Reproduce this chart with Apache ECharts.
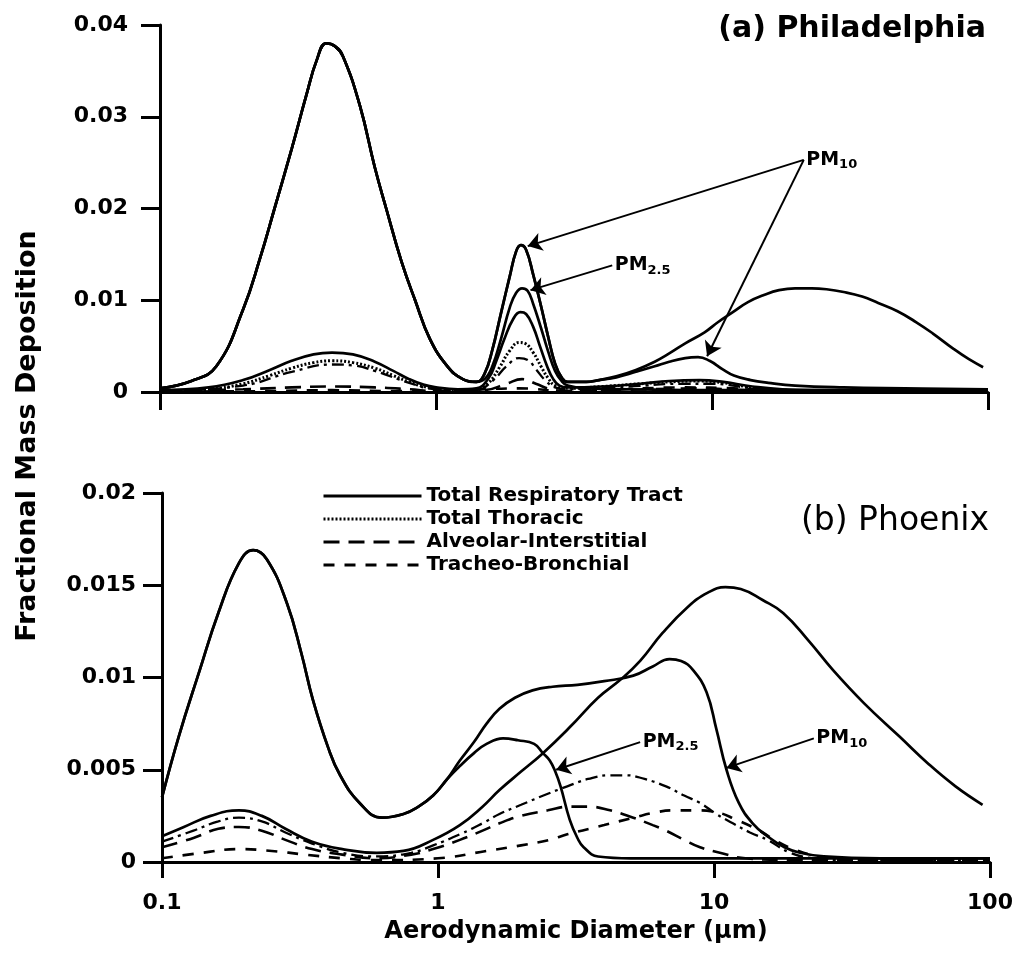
<!DOCTYPE html>
<html>
<head>
<meta charset="utf-8">
<script src="https://cdn.jsdelivr.net/npm/echarts@6/dist/echarts.min.js"></script>
<style>
  html, body { margin: 0; padding: 0; background: #fff; }
  #chart { width: 1025px; height: 958px; }
</style>
</head>
<body>
<div id="chart"></div>
<script>
// ---- Philadelphia: aerodynamic diameter (µm), fractional mass deposition ----
// fine mode shared by the ambient, PM10 and PM2.5 total-respiratory-tract curves
const phlFineMode = [[0.1,0.0004],[0.13,0.0012],[0.16,0.0028],[0.2,0.0090],[0.23,0.0145],[0.26,0.0200],[0.3,0.0265],[0.34,0.0325],[0.37,0.0362],[0.4,0.0380],[0.43,0.0377],[0.46,0.0366],[0.53,0.0312],[0.6,0.0245],[0.66,0.0200],[0.75,0.0142],[0.84,0.0100],[0.95,0.0058],[1.1,0.0028],[1.25,0.0014],[1.4,0.0011]];
// accumulation peak shared by ambient and PM10
const phlAccumPeak = [[1.5,0.0020],[1.6,0.0046],[1.72,0.0086],[1.85,0.0126],[1.95,0.0153],[2.03,0.0160],[2.12,0.0155],[2.25,0.0128],[2.4,0.0094],[2.55,0.0060],[2.7,0.0031],[2.85,0.0016],[3.0,0.0011]];
const phlAmbientCoarse = [[3.5,0.0011],[3.9,0.0013],[4.5,0.0017],[5.3,0.0024],[6.2,0.0033],[7.0,0.0042],[8.0,0.0053],[9.4,0.0065],[10.5,0.0076],[11.9,0.0087],[13.5,0.0098],[15.5,0.0106],[17.5,0.0111],[20,0.0113],[23,0.0113],[26,0.0112],[30,0.0109],[35,0.0104],[40,0.0097],[47,0.0088],[55,0.0076],[63,0.0064],[75,0.0047],[85,0.0036],[96,0.0027]];
const phlPm10Coarse = [[3.5,0.0011],[3.9,0.0013],[4.5,0.0016],[5.3,0.0022],[6.2,0.0028],[7.0,0.0033],[8.0,0.0037],[8.9,0.0038],[9.8,0.0034],[10.9,0.0025],[12,0.0018],[13.8,0.0013],[16,0.0010],[20,0.0007],[30,0.0005],[50,0.0004],[100,0.0003]];
const phlPm25Peak = [[1.5,0.0014],[1.6,0.0028],[1.72,0.0058],[1.85,0.0092],[1.95,0.0108],[2.05,0.0113],[2.15,0.0110],[2.25,0.0096],[2.4,0.0070],[2.55,0.0044],[2.7,0.0023],[2.85,0.0012],[3.0,0.0007],[3.5,0.0004],[5,0.0003],[10,0.0002],[100,0.0002]];
const phlInnerResp = [[0.1,0.0002],[0.15,0.0005],[0.2,0.0013],[0.25,0.0024],[0.3,0.0034],[0.36,0.0041],[0.42,0.0043],[0.5,0.0041],[0.6,0.0033],[0.7,0.0023],[0.8,0.0014],[0.9,0.0008],[1.0,0.0005],[1.2,0.0003],[1.4,0.0004],[1.55,0.0015],[1.65,0.0033],[1.77,0.0058],[1.9,0.0079],[2.02,0.0087],[2.12,0.0085],[2.25,0.0071],[2.38,0.0050],[2.52,0.0029],[2.66,0.0014],[2.8,0.0007],[3.0,0.0005],[4,0.0006],[5.5,0.0009],[7,0.0012],[9,0.0013],[11,0.0011],[14,0.0006],[18,0.0003],[30,0.0002],[100,0.0002]];
const phlThoracic = [[0.1,0.0001],[0.15,0.0003],[0.2,0.0009],[0.25,0.0018],[0.3,0.0026],[0.36,0.0032],[0.42,0.0034],[0.5,0.0032],[0.6,0.0026],[0.7,0.0018],[0.8,0.0011],[0.9,0.0006],[1.0,0.0004],[1.2,0.0002],[1.4,0.0003],[1.55,0.0010],[1.7,0.0027],[1.85,0.0045],[2.0,0.0054],[2.1,0.0053],[2.25,0.0043],[2.4,0.0028],[2.55,0.0015],[2.7,0.0007],[3.0,0.0004],[4,0.0006],[5.5,0.0009],[7,0.0011],[9,0.0012],[11,0.0010],[14,0.0005],[18,0.0002],[30,0.0001],[100,0.0001]];
const phlThoracicPm = [[0.1,0.0001],[0.2,0.0007],[0.3,0.0022],[0.42,0.0030],[0.5,0.0029],[0.6,0.0023],[0.8,0.0010],[1.0,0.0003],[1.4,0.0002],[1.6,0.0012],[1.8,0.0028],[2.0,0.0037],[2.15,0.0035],[2.3,0.0025],[2.5,0.0012],[2.7,0.0005],[3.0,0.0003],[5,0.0006],[8,0.0009],[10,0.0009],[14,0.0004],[20,0.0001],[100,0.0001]];
const phlAlveolar = [[0.1,0.0001],[0.2,0.0003],[0.3,0.0005],[0.42,0.0006],[0.6,0.0005],[0.8,0.0003],[1.0,0.0001],[1.5,0.0002],[1.8,0.0009],[2.05,0.0014],[2.3,0.0009],[2.6,0.0003],[3.0,0.0001],[6,0.0003],[9,0.0004],[13,0.0002],[20,0.0001],[100,0.0001]];
const phlBronchial = [[0.1,0.00005],[0.25,0.0001],[0.42,0.0002],[0.7,0.0001],[1.0,0.0001],[2.0,0.0004],[3.0,0.0001],[8,0.0005],[12,0.0004],[20,0.0001],[100,0.0001]];

// ---- Phoenix ----
// fine mode shared by the PM10 and PM2.5 total-respiratory-tract curves
const phxFineMode = [[0.1,0.0035],[0.115,0.0068],[0.137,0.0104],[0.16,0.0135],[0.19,0.0162],[0.214,0.0169],[0.24,0.0164],[0.284,0.0140],[0.32,0.0113],[0.352,0.0088],[0.4,0.0062],[0.442,0.0047],[0.52,0.0032],[0.627,0.0024],[0.75,0.0026],[0.85,0.0030],[0.96,0.0036],[1.08,0.0045]];
const phxPm10Coarse = [[1.2,0.0055],[1.35,0.0065],[1.5,0.0075],[1.67,0.0083],[1.9,0.0089],[2.2,0.0093],[2.6,0.0095],[3.2,0.0096],[4.0,0.0098],[5.1,0.0101],[6.0,0.0106],[6.9,0.0110],[7.6,0.0109],[8.4,0.0104],[9.4,0.0092],[10.2,0.0072],[11.1,0.0050],[12.3,0.0032],[13.8,0.0021],[15.6,0.0014],[18,0.0008],[20.5,0.0005],[25,0.0003],[40,0.0002],[100,0.0002]];
const phxPm25Peak = [[1.2,0.0052],[1.35,0.0059],[1.5,0.0064],[1.72,0.0067],[1.95,0.0066],[2.23,0.0064],[2.4,0.0059],[2.54,0.0055],[2.66,0.0049],[2.78,0.0041],[3.0,0.0023],[3.2,0.0013],[3.37,0.0008],[3.8,0.0003],[5,0.0002],[100,0.0002]];
const phxAmbient = [[0.1,0.0014],[0.12,0.0019],[0.15,0.0025],[0.19,0.0028],[0.23,0.0025],[0.28,0.0018],[0.35,0.0011],[0.45,0.0007],[0.6,0.0005],[0.75,0.0006],[0.96,0.0012],[1.2,0.0020],[1.45,0.0030],[1.67,0.0039],[2.0,0.0049],[2.4,0.0059],[3.0,0.0073],[3.8,0.0089],[4.6,0.0099],[5.4,0.0109],[6.5,0.0124],[8.0,0.0138],[9.5,0.0146],[11,0.0149],[12.5,0.0148],[15,0.0142],[17.8,0.0135],[22,0.0120],[27,0.0104],[35,0.0086],[47,0.0068],[60,0.0053],[75,0.0041],[94,0.0031]];
const phxThoracic = [[0.1,0.0011],[0.13,0.0017],[0.16,0.0022],[0.19,0.0024],[0.23,0.0022],[0.28,0.0016],[0.35,0.0010],[0.45,0.0005],[0.6,0.0003],[0.8,0.0005],[0.96,0.0009],[1.2,0.0015],[1.45,0.0021],[1.67,0.0026],[2.0,0.0031],[2.5,0.0037],[2.94,0.0041],[3.5,0.0045],[4.2,0.0047],[4.8,0.0047],[5.6,0.0045],[6.7,0.0041],[7.8,0.0036],[8.9,0.0032],[10.2,0.0026],[11.7,0.0021],[13.5,0.0016],[15.6,0.0012],[18.9,0.0005],[23,0.0002],[30,0.0001],[100,0.0001]];
const phxAlveolar = [[0.1,0.0008],[0.13,0.0013],[0.16,0.0018],[0.19,0.0019],[0.23,0.0017],[0.28,0.0012],[0.35,0.0007],[0.45,0.0004],[0.6,0.0002],[0.8,0.0004],[0.96,0.0007],[1.2,0.0012],[1.45,0.0017],[1.67,0.0021],[2.0,0.0025],[2.5,0.0028],[3.0,0.0030],[3.5,0.0030],[4.2,0.0028],[5.1,0.0024],[6.0,0.0020],[6.7,0.0017],[7.8,0.0012],[8.9,0.0008],[10.5,0.0005],[13,0.0002],[20,0.0001],[100,0.0001]];
const phxBronchial = [[0.1,0.0002],[0.14,0.0005],[0.19,0.0007],[0.25,0.0006],[0.33,0.0004],[0.45,0.0002],[0.6,0.0001],[1.0,0.0002],[1.5,0.0006],[2.0,0.0009],[2.54,0.0012],[2.94,0.0015],[4,0.0020],[5.1,0.0024],[6.2,0.0027],[7.1,0.0028],[8.5,0.0028],[10.2,0.0027],[12,0.0023],[14.6,0.0017],[17,0.0011],[19.4,0.0007],[23.8,0.0003],[30,0.0001],[100,0.0001]];

// ---- annotation arrows: [label anchor, arrow tip] ----
const phlPm10ArrowA = [[21.5,0.0253],[2.15,0.0159]];
const phlPm10ArrowB = [[21.5,0.0253],[9.6,0.0039]];
const phlPm25Arrow = [[4.35,0.0138],[2.2,0.0111]];
const phxPm25Arrow = [[5.4,0.0065],[2.68,0.0050]];
const phxPm10Arrow = [[23,0.0067],[11.1,0.0051]];

// ---- axis ticks ----
const xTicks = [0.1, 1, 10, 100];
const phlYTicks = [0, 0.01, 0.02, 0.03, 0.04];
const phxYTicks = [0, 0.005, 0.01, 0.015, 0.02];

const legendNames = ['Total Respiratory Tract', 'Total Thoracic', 'Alveolar-Interstitial', 'Tracheo-Bronchial'];

const INK = '#000';
const FONT = '"DejaVu Sans", "Liberation Sans", Arial, sans-serif';

const styles = {
  solid:   { color: INK, width: 2.7, type: 'solid' },
  dotted:  { color: INK, width: 3,   type: [2, 2] },
  dashDot: { color: INK, width: 2.3, type: [12, 5, 3, 5] },
  dashA:   { color: INK, width: 2.6, type: [16, 9] },
  dashB:   { color: INK, width: 2.6, type: [11, 10] }
};

function curve(name, data, panel, style, z) {
  return {
    type: 'line', name, data,
    xAxisIndex: panel, yAxisIndex: panel,
    symbol: 'none', showSymbol: false,
    smooth: 0.45,
    itemStyle: { color: INK },
    lineStyle: style, z: z || 2, silent: true, clip: true
  };
}

const subRich = {
  m: { fontFamily: FONT, fontWeight: 'bold', fontSize: 19, color: INK },
  s: { fontFamily: FONT, fontWeight: 'bold', fontSize: 13, color: INK, padding: [10, 0, 0, 0] }
};

function arrows(list) {
  return {
    silent: true, animation: false,
    symbol: ['none', 'arrow'], symbolSize: 14,
    label: { show: false },
    lineStyle: { color: INK, width: 2, type: 'solid' },
    itemStyle: { color: INK },
    emphasis: { disabled: true },
    data: list.map(a => [{ coord: a[0] }, { coord: a[1] }])
  };
}

function pmLabels(items) {
  return {
    silent: true, animation: false,
    symbol: 'circle', symbolSize: 1,
    itemStyle: { color: 'rgba(0,0,0,0)' },
    label: { show: true, position: 'right', distance: 2, rich: subRich },
    data: items.map(it => ({ coord: it.at, value: 0, label: { formatter: it.text } }))
  };
}

const phlAmbient = phlFineMode.concat(phlAccumPeak, phlAmbientCoarse);
const phlPm10 = phlFineMode.concat(phlAccumPeak, phlPm10Coarse);
const phlPm25 = phlFineMode.concat(phlPm25Peak);
const phxPm10 = phxFineMode.concat(phxPm10Coarse);
const phxPm25 = phxFineMode.concat(phxPm25Peak);

const tickLabelStyle = { color: INK, fontFamily: FONT, fontWeight: 'bold', fontSize: 22 };

function xAxisCfg(panel, withLabels) {
  return {
    type: 'log', logBase: 10, min: xTicks[0], max: xTicks[xTicks.length - 1],
    gridIndex: panel,
    axisLine: { show: true, onZero: false, lineStyle: { color: INK, width: 3 } },
    axisTick: { show: true, length: withLabels ? 16 : 18, lineStyle: { color: INK, width: 3 } },
    minorTick: { show: false }, splitLine: { show: false }, minorSplitLine: { show: false },
    axisLabel: withLabels ? Object.assign({ show: true, margin: 30,
      formatter: v => String(Number(v.toPrecision(3))) }, tickLabelStyle) : { show: false },
    name: withLabels ? 'Aerodynamic Diameter (\u03bcm)' : '',
    nameLocation: 'middle', nameGap: 58,
    nameTextStyle: { color: INK, fontFamily: FONT, fontWeight: 'bold', fontSize: 24 }
  };
}

function yAxisCfg(panel, ticks, margin) {
  return {
    type: 'value', gridIndex: panel,
    min: ticks[0], max: ticks[ticks.length - 1], interval: ticks[1] - ticks[0],
    axisLine: { show: true, onZero: false, lineStyle: { color: INK, width: 3 } },
    axisTick: { show: true, length: 19, lineStyle: { color: INK, width: 3 } },
    splitLine: { show: false },
    axisLabel: Object.assign({ show: true, margin: margin,
      formatter: v => String(Number(v.toPrecision(3))) }, tickLabelStyle)
  };
}

const chart = echarts.init(document.getElementById('chart'), null, { renderer: 'canvas' });

const phlAnnot = curve('Total Respiratory Tract', phlAmbient, 0, styles.solid, 5);
phlAnnot.markLine = arrows([phlPm10ArrowA, phlPm10ArrowB, phlPm25Arrow]);
phlAnnot.markPoint = pmLabels([
  { at: phlPm10ArrowA[0], text: '{m|PM}{s|10}' },
  { at: phlPm25Arrow[0], text: '{m|PM}{s|2.5}' }
]);

const phxAnnot = curve('Total Respiratory Tract', phxPm10, 1, styles.solid, 5);
phxAnnot.markLine = arrows([phxPm25Arrow, phxPm10Arrow]);
phxAnnot.markPoint = pmLabels([
  { at: phxPm25Arrow[0], text: '{m|PM}{s|2.5}' },
  { at: phxPm10Arrow[0], text: '{m|PM}{s|10}' }
]);

chart.setOption({
  backgroundColor: '#fff',
  animation: false,
  tooltip: { show: false },
  grid: [
    { left: 160, top: 25, width: 828, height: 367, containLabel: false, outerBoundsMode: 'none' },
    { left: 162, top: 493, width: 828, height: 369, containLabel: false, outerBoundsMode: 'none' }
  ],
  xAxis: [xAxisCfg(0, false), xAxisCfg(1, true)],
  yAxis: [yAxisCfg(0, phlYTicks, 32), yAxisCfg(1, phxYTicks, 26)],
  legend: {
    show: true, orient: 'vertical', left: 322, top: 486,
    data: legendNames, selectedMode: false,
    itemWidth: 98, itemHeight: 12, itemGap: 3, padding: 0,
    lineStyle: { width: 3 },
    itemStyle: { color: 'rgba(0,0,0,0)', borderWidth: 0, opacity: 0 },
    textStyle: { color: INK, fontFamily: FONT, fontWeight: 'bold', fontSize: 20, lineHeight: 20 }
  },
  graphic: [
    { type: 'text', x: 986, y: 29, silent: true,
      style: { text: '(a) Philadelphia', fill: INK, font: 'bold 30px ' + FONT, align: 'right', verticalAlign: 'middle' } },
    { type: 'text', x: 989, y: 521, silent: true,
      style: { text: '(b) Phoenix', fill: INK, font: '33px ' + FONT, align: 'right', verticalAlign: 'middle' } },
    { type: 'text', x: 28, y: 436, rotation: Math.PI / 2, silent: true,
      style: { text: 'Fractional Mass Deposition', fill: INK, font: 'bold 27px ' + FONT, align: 'center', verticalAlign: 'middle' } }
  ],
  series: [
    // Philadelphia
    curve('Total Thoracic', phlThoracic, 0, styles.dotted, 3),
    curve('Alveolar-Interstitial', phlAlveolar, 0, styles.dashA, 3),
    curve('Tracheo-Bronchial', phlBronchial, 0, styles.dashB, 3),
    curve('Total Thoracic', phlThoracicPm, 0, styles.dashDot, 3),
    phlAnnot,
    curve('Total Respiratory Tract', phlPm10, 0, styles.solid, 4),
    curve('Total Respiratory Tract', phlPm25, 0, styles.solid, 4),
    curve('Total Respiratory Tract', phlInnerResp, 0, styles.solid, 4),
    // Phoenix
    curve('Total Thoracic', phxThoracic, 1, styles.dashDot, 3),
    curve('Alveolar-Interstitial', phxAlveolar, 1, styles.dashA, 3),
    curve('Tracheo-Bronchial', phxBronchial, 1, styles.dashB, 3),
    phxAnnot,
    curve('Total Respiratory Tract', phxPm25, 1, styles.solid, 4),
    curve('Total Respiratory Tract', phxAmbient, 1, styles.solid, 4)
  ]
});
</script>
</body>
</html>
